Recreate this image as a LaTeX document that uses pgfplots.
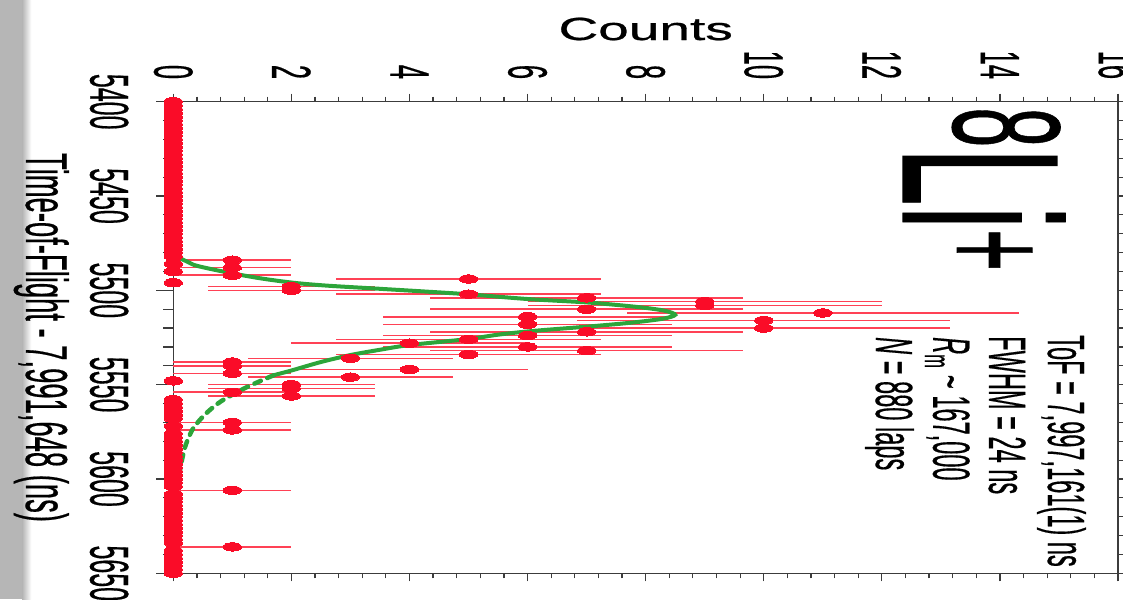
\documentclass[border=0pt]{standalone}
\usepackage{fontspec}
\setmainfont{Liberation Sans}[FakeBold=0.6]
\usepackage{pgfplots}
\pgfplotsset{compat=1.18}
\usepackage{pgfplotstable}
\definecolor{ptred}{RGB}{250,12,40}
\definecolor{errred}{RGB}{255,65,85}
\definecolor{fitgreen}{RGB}{44,165,58}
\definecolor{axgray}{RGB}{60,60,60}
\definecolor{band}{RGB}{182,182,182}

\pgfplotstableread{
t c e
5484 1 1
5488 1 1
5492 1 1
5494 5 2.236
5498 2 1.414
5500 2 1.414
5502 5 2.236
5504 7 2.646
5506 9 3
5508 9 3
5510 7 2.646
5512 11 3.317
5514 6 2.449
5516 10 3.162
5518 6 2.449
5520 10 3.162
5522 7 2.646
5524 6 2.449
5526 5 2.236
5528 4 2
5530 6 2.449
5532 7 2.646
5534 5 2.236
5536 3 1.732
5538 1 1
5540 1 1
5542 4 2
5544 1 1
5546 3 1.732
5550 2 1.414
5552 2 1.414
5554 1 1
5556 2 1.414
5570 1 1
5574 1 1
5606 1 1
5636 1 1
}\nonzero

\pgfplotstableread{
t c
5400 0
5402 0
5404 0
5406 0
5408 0
5410 0
5412 0
5414 0
5416 0
5418 0
5420 0
5422 0
5424 0
5426 0
5428 0
5430 0
5432 0
5434 0
5436 0
5438 0
5440 0
5442 0
5444 0
5446 0
5448 0
5450 0
5452 0
5454 0
5456 0
5458 0
5460 0
5462 0
5464 0
5466 0
5468 0
5470 0
5472 0
5474 0
5476 0
5478 0
5480 0
5482 0
5486 0
5490 0
5496 0
5548 0
5558 0
5560 0
5562 0
5564 0
5566 0
5568 0
5572 0
5576 0
5578 0
5580 0
5582 0
5584 0
5586 0
5588 0
5590 0
5592 0
5594 0
5596 0
5598 0
5600 0
5602 0
5604 0
5608 0
5610 0
5612 0
5614 0
5616 0
5618 0
5620 0
5622 0
5624 0
5626 0
5628 0
5630 0
5632 0
5634 0
5638 0
5640 0
5642 0
5644 0
5646 0
5648 0
5650 0
}\zeros

\begin{document}
\begin{tikzpicture}
\path[use as bounding box] (-173.3pt,-25.7pt) rectangle (949.7pt,573.3pt);
\fill[band] (-173.3pt,-25.7pt) rectangle (-151pt,573.3pt);
\shade[left color=band, right color=white] (-151.05pt,-25.7pt) rectangle (-142pt,573.3pt);
\begin{axis}[
  at={(0pt,0pt)}, anchor=south west,
  scale only axis, width=944.7pt, height=471.6pt,
  xmin=0, xmax=16, ymin=5400, ymax=5650, y dir=reverse,
  clip=false,
  axis line style={axgray, line width=1.3pt},
  xtick={0,2,...,16}, ytick={5400,5450,...,5650},
  minor x tick num=4, minor y tick num=4,
  tick align=outside,
  tick style={axgray, line width=1.2pt},
  xtick style={/pgfplots/major tick length=8pt, /pgfplots/minor tick length=5pt},
  ytick style={/pgfplots/major tick length=17pt, /pgfplots/minor tick length=10pt},
  xticklabels={}, yticklabels={},
  scaled ticks=false,
  xlabel={Counts}, ylabel={Time-of-Flight - 7,991,648 (ns)},
  every axis x label/.style={at={(axis description cs:0.5,1.1308)}, anchor=base, font=\fontsize{32}{32}\selectfont, xscale=1.72, inner sep=0pt},
  every axis y label/.style={at={(axis description cs:-0.1559,0.5)}, anchor=base, font=\fontsize{27.4}{27.4}\selectfont, xscale=2.16, rotate=-90, inner sep=0pt},
]
\addplot[errred, only marks, mark=none, error bars/.cd, x dir=both, x explicit, error mark=none,
  error bar style={draw=errred, color=errred, solid, line width=1.5pt}] table[x=c, y=t, x error=e] {\nonzero};

\addplot[fitgreen, line width=4pt, smooth] coordinates {
(0.08,5482.5) (0.25,5485) (0.4,5487) (0.9,5490.4) (1.47,5493.6) (2.04,5496)
(2.6,5497.5) (3.4,5499) (4.3,5500.7) (5.0,5502.1) (6.0,5504.6) (7.0,5506.4)
(7.6,5508) (8.05,5509.5) (8.35,5511) (8.5,5513) (8.3,5515) (7.8,5517)
(7.1,5519) (6.1,5521.5) (5.5,5523.5) (5.0,5525.8) (4.0,5529) (3.5,5531.5)
(3.0,5534.3) (2.5,5538) (2.0,5542.5) (1.7,5545)};
\addplot[fitgreen, line width=4.5pt, smooth, line cap=round, dash pattern=on 7pt off 7pt] coordinates {
(1.7,5545) (1.45,5548.4) (1.2,5552) (0.99,5555.5) (0.8,5559) (0.62,5563.4)
(0.47,5568) (0.34,5573) (0.26,5578) (0.2,5583) (0.16,5588) (0.125,5593.5) (0.085,5600.5)};

\addplot[ptred, only marks, mark=*, mark size=4.2pt, mark options={xscale=2.2, fill=ptred, draw=ptred, line width=0pt}]
  table[x=c, y=t] {\nonzero};
\addplot[ptred, only marks, mark=*, mark size=4.2pt, mark options={xscale=2.2, fill=ptred, draw=ptred, line width=0pt}]
  table[x=c, y=t] {\zeros};

\node[anchor=base west, xscale=2.13, rotate=-90, inner sep=0pt, font=\fontsize{105}{105}\selectfont]
  at (axis cs:12.36,5402.9) {\raisebox{23.6pt}{\fontsize{72}{72}\selectfont 8}Li\raisebox{19pt}{\fontsize{72}{72}\selectfont +}};
\node[anchor=base west, xscale=2.22, rotate=-90, inner sep=0pt, font=\fontsize{23.6}{23.6}\selectfont]
  at (axis cs:14.814,5523.7) {ToF = 7,997,161(1) ns};
\node[anchor=base west, xscale=2.22, rotate=-90, inner sep=0pt, font=\fontsize{23.6}{23.6}\selectfont]
  at (axis cs:13.816,5524.2) {FWHM = 24 ns};
\node[anchor=base west, xscale=2.22, rotate=-90, inner sep=0pt, font=\fontsize{23.6}{23.6}\selectfont]
  at (axis cs:12.87,5524.7) {\textit{R}\textsubscript{m} \textasciitilde{} 167,000};
\node[anchor=base west, xscale=2.22, rotate=-90, inner sep=0pt, font=\fontsize{23.6}{23.6}\selectfont]
  at (axis cs:11.9,5524.7) {\textit{N} = 880 laps};
\end{axis}
% tick labels (stretched like the reference)
\foreach \c in {0,2,...,16}{
  \node[anchor=east, xscale=2.17, rotate=-90, inner sep=0pt, font=\fontsize{25.5}{25.5}\selectfont]
    at ({59.04pt*\c},494pt) {\c};
}
\foreach \t in {5400,5450,...,5650}{
  \node[anchor=north, xscale=2.19, rotate=-90, inner sep=0pt, font=\fontsize{25}{25}\selectfont]
    at (-44.3pt,{471.6pt-1.8864pt*(\t-5400)}) {\t};
}
\end{tikzpicture}
\end{document}
